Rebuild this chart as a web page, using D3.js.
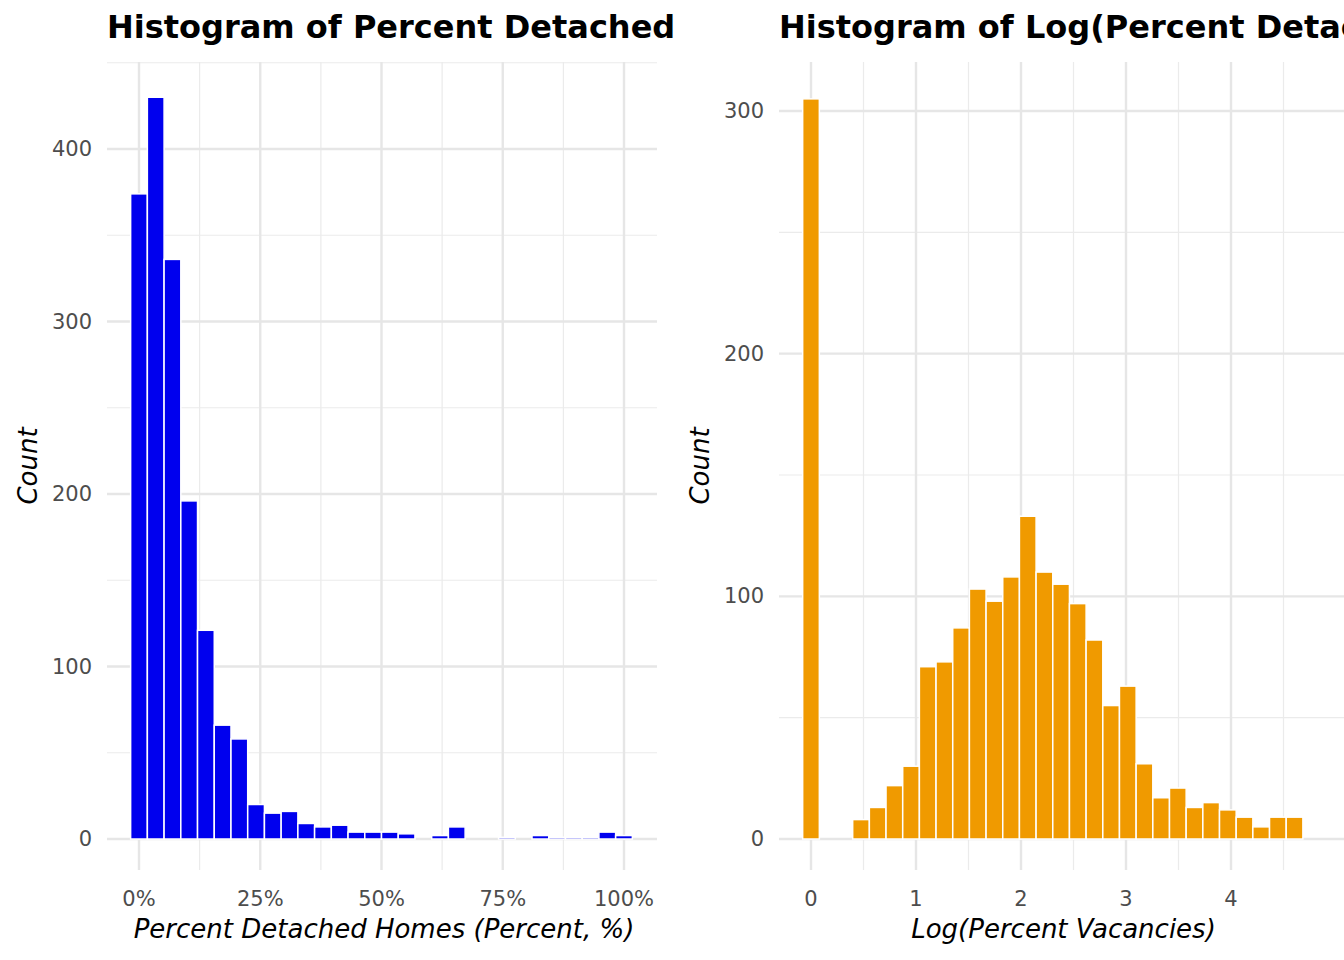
<!DOCTYPE html>
<html><head><meta charset="utf-8">
<script src="https://cdn.jsdelivr.net/npm/d3@7"></script>
<style>body{margin:0;background:#fff}</style>
</head><body>
<svg id="chart" width="1344" height="960"></svg>
<script>
// bin counts (30 bins each)
var detachedCounts = [374, 430, 336, 196, 121, 66, 58, 20, 15, 16, 9, 7, 8, 4, 4, 4, 3, 0, 2, 7, 0, 0, 1, 0, 2, 1, 1, 1, 4, 2];
var logCounts = [305, 0, 0, 8, 13, 22, 30, 71, 73, 87, 103, 98, 108, 133, 110, 105, 97, 82, 55, 63, 31, 17, 21, 13, 15, 12, 9, 5, 9, 9];
var detachedTicks = [0, 25, 50, 75, 100];
var logTicks = [0, 1, 2, 3, 4];

var svg = d3.select("#chart");
var font = "DejaVu Sans";

function panel(opt) {
    var g = svg.append("g");
    var n = opt.counts.length;
    var step = (opt.xmax - opt.xmin) / (n - 1);
    var x = d3.scaleLinear().domain(opt.xdom).range(opt.xrange);
    var y = d3.scaleLinear().domain(opt.ydom).range(opt.yrange);
    var top = 62, bottom = 870;

    // minor grid
    opt.xminor.forEach(function(v) {
        g.append("line").attr("x1", x(v)).attr("x2", x(v)).attr("y1", top).attr("y2", bottom)
            .attr("stroke", "#ebebeb").attr("stroke-width", 1.2);
    });
    opt.yminor.forEach(function(v) {
        g.append("line").attr("x1", opt.left).attr("x2", opt.right).attr("y1", y(v)).attr("y2", y(v))
            .attr("stroke", "#ebebeb").attr("stroke-width", 1.2);
    });
    // major grid
    opt.xticks.forEach(function(v) {
        g.append("line").attr("x1", x(v)).attr("x2", x(v)).attr("y1", top).attr("y2", bottom)
            .attr("stroke", "#e6e6e6").attr("stroke-width", 2.4);
    });
    opt.yticks.forEach(function(v) {
        g.append("line").attr("x1", opt.left).attr("x2", opt.right).attr("y1", y(v)).attr("y2", y(v))
            .attr("stroke", "#e6e6e6").attr("stroke-width", 2.4);
    });

    g.selectAll("rect.bar")
        .data(opt.counts)
        .enter()
        .append("rect")
        .attr("class", "bar")
        .attr("x", function(d, i) { return x(opt.xmin + (i - 0.5) * step); })
        .attr("width", function(d, i) { return x(opt.xmin + (i + 0.5) * step) - x(opt.xmin + (i - 0.5) * step); })
        .attr("y", function(d) { return y(d); })
        .attr("height", function(d) { return y(0) - y(d); })
        .attr("fill", opt.color)
        .attr("stroke", "#fff")
        .attr("stroke-width", 1.5);

    opt.xticks.forEach(function(v) {
        g.append("text").attr("x", x(v)).attr("y", 906).text(opt.fmt(v))
            .attr("text-anchor", "middle").attr("font-family", font).attr("font-size", "21px").attr("fill", "#4d4d4d");
    });
    opt.yticks.forEach(function(v) {
        g.append("text").attr("x", opt.left - 15).attr("y", y(v)).text(v)
            .attr("text-anchor", "end").attr("dominant-baseline", "central")
            .attr("font-family", font).attr("font-size", "21px").attr("fill", "#4d4d4d");
    });

    g.append("text").attr("x", (opt.left + opt.right) / 2 + 2).attr("y", 938).text(opt.xlabel)
        .attr("text-anchor", "middle").attr("font-family", font).attr("font-size", "26px").attr("font-style", "italic");
    g.append("text").attr("transform", "translate(" + (opt.left - 70) + "," + 466 + ") rotate(-90)")
        .text("Count").attr("text-anchor", "middle").attr("font-family", font)
        .attr("font-size", "26px").attr("font-style", "italic");
    g.append("text").attr("x", opt.left).attr("y", 38).text(opt.title)
        .attr("font-family", font).attr("font-size", "32px").attr("font-weight", "bold");
}

panel({
    counts: detachedCounts, xmin: 0, xmax: 100,
    xdom: [0, 100], xrange: [139, 624], ydom: [0, 400], yrange: [839, 149],
    left: 107, right: 657,
    xticks: detachedTicks, xminor: [12.5, 37.5, 62.5, 87.5],
    yticks: [0, 100, 200, 300, 400], yminor: [50, 150, 250, 350, 450],
    color: "#0000ee",
    fmt: function(v) { return v + "%"; },
    xlabel: "Percent Detached Homes (Percent, %)",
    title: "Histogram of Percent Detached"
});

panel({
    counts: logCounts, xmin: 0, xmax: Math.log(100),
    xdom: [0, 4], xrange: [811, 1231], ydom: [0, 300], yrange: [839, 111],
    left: 779, right: 1344,
    xticks: logTicks, xminor: [0.5, 1.5, 2.5, 3.5, 4.5],
    yticks: [0, 100, 200, 300], yminor: [50, 150, 250],
    color: "#f09a00",
    fmt: function(v) { return v; },
    xlabel: "Log(Percent Vacancies)",
    title: "Histogram of Log(Percent Detached Homes)"
});
</script>
</body></html>
